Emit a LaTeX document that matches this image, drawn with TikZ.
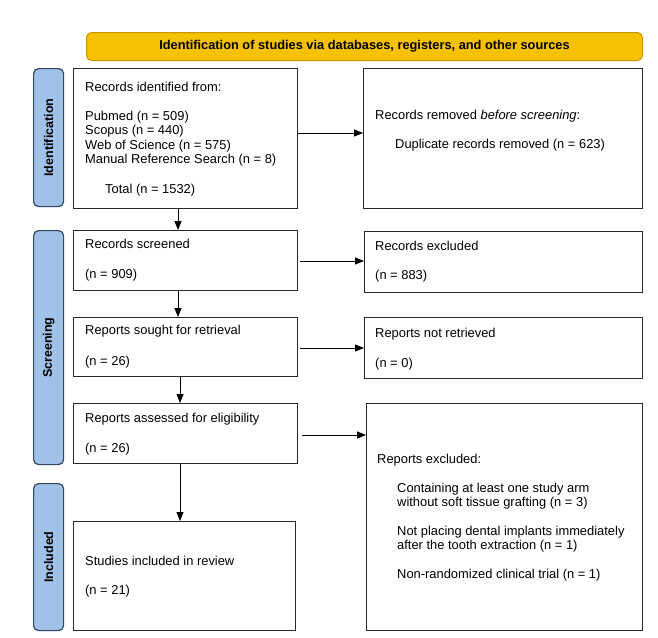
\documentclass[tikz,border=0pt]{standalone}
\usepackage{fontspec}
\setmainfont{Liberation Sans}
\usetikzlibrary{arrows.meta}
\definecolor{hdrfill}{RGB}{245,193,0}
\definecolor{hdrline}{RGB}{200,150,0}
\definecolor{barfill}{RGB}{160,194,232}
\definecolor{barline}{RGB}{50,70,100}
\definecolor{boxline}{RGB}{40,40,40}
\tikzset{
  box/.style={draw=boxline, line width=1.2pt, fill=white, anchor=north west, inner sep=0pt},
  bar/.style={draw=barline, line width=1.2pt, fill=barfill, rounded corners=5pt, anchor=north west, inner sep=0pt},
  hdr/.style={draw=hdrline, line width=1pt, fill=hdrfill, rounded corners=5pt, anchor=north west, inner sep=0pt},
  txt/.style={anchor=west, inner sep=0pt, font=\fontsize{12.9}{15}\selectfont},
  side/.style={rotate=90, font=\fontsize{12.5}{14}\selectfont\bfseries, inner sep=0pt},
  arr/.style={-{Triangle[length=9pt,width=7pt]}, line width=0.8pt, draw=black}
}
\begin{document}
\begin{tikzpicture}[x=1pt,y=-1pt]
\useasboundingbox (0,0) rectangle (658,637);
% header
\node[hdr, minimum width=556pt, minimum height=28pt] (hdr) at (86,32) {};
\node[inner sep=0pt, font=\fontsize{12.8}{14}\selectfont\bfseries] (hdrt) at (hdr.center) {Identification of studies via databases, registers, and other sources};
% side bars
\node[bar, minimum width=30pt, minimum height=138pt] (b1) at (33,68) {};
\node[side] (b1t) at (b1.center) {Identification};
\node[bar, minimum width=30pt, minimum height=234pt] (b2) at (33,230) {};
\node[side] (b2t) at (b2.center) {Screening};
\node[bar, minimum width=30pt, minimum height=147pt] (b3) at (33,483) {};
\node[side] (b3t) at (b3.center) {Included};
% boxes
\node[box, minimum width=224pt, minimum height=140pt] (ident) at (73,68) {};
\node[box, minimum width=279pt, minimum height=140pt] (removed) at (363,68) {};
\node[box, minimum width=224pt, minimum height=60pt] (screened) at (73,230) {};
\node[box, minimum width=278pt, minimum height=61pt] (excl) at (364,231) {};
\node[box, minimum width=224pt, minimum height=59pt] (sought) at (73,317) {};
\node[box, minimum width=278pt, minimum height=61pt] (notret) at (364,317) {};
\node[box, minimum width=224pt, minimum height=60pt] (assessed) at (73,403) {};
\node[box, minimum width=276pt, minimum height=227pt] (repexcl) at (366,403) {};
\node[box, minimum width=222pt, minimum height=109pt] (incl) at (73,521) {};
% texts
\node[txt] (t1) at (85,87) {Records identified from:};
\node[txt] (t2) at (85,117) {Pubmed (n = 509)};
\node[txt] (t3) at (85,131) {Scopus (n = 440)};
\node[txt] (t4) at (85,146) {Web of Science (n = 575)};
\node[txt] (t5) at (85,160) {Manual Reference Search (n = 8)};
\node[txt] (t6) at (105,190) {Total (n = 1532)};
\node[txt] (t7) at (375,116) {Records removed \textit{before screening}:};
\node[txt] (t8) at (395,145) {Duplicate records removed (n = 623)};
\node[txt] (t9) at (85,244) {Records screened};
\node[txt] (t10) at (85,275) {(n = 909)};
\node[txt] (t11) at (375,246) {Records excluded};
\node[txt] (t12) at (375,276) {(n = 883)};
\node[txt] (t13) at (85,331) {Reports sought for retrieval};
\node[txt] (t14) at (85,362) {(n = 26)};
\node[txt] (t15) at (375,334) {Reports not retrieved};
\node[txt] (t16) at (375,364) {(n = 0)};
\node[txt] (t17) at (85,419) {Reports assessed for eligibility};
\node[txt] (t18) at (85,449) {(n = 26)};
\node[txt] (t19) at (377,460) {Reports excluded:};
\node[txt] (t20) at (397,489) {Containing at least one study arm};
\node[txt] (t21) at (397,503) {without soft tissue grafting (n = 3)};
\node[txt] (t22) at (397,532) {Not placing dental implants immediately};
\node[txt] (t23) at (397,546) {after the tooth extraction (n = 1)};
\node[txt] (t24) at (397,575) {Non-randomized clinical trial (n = 1)};
\node[txt] (t25) at (85,561) {Studies included in review};
\node[txt] (t26) at (85,591) {(n = 21)};
% arrows
\draw[arr] (ident.east |- 0,133) -- (removed.west |- 0,133);
\draw[arr] (ident.south -| 178,0) -- (screened.north -| 178,0);
\draw[arr] (screened.east |- 0,261) ++(2,0) -- (excl.west |- 0,261);
\draw[arr] (screened.south -| 178,0) -- (sought.north -| 178,0);
\draw[arr] (sought.east |- 0,348) ++(2,0) -- (notret.west |- 0,348);
\draw[arr] (sought.south -| 180,0) -- (assessed.north -| 180,0);
\draw[arr] (assessed.east |- 0,435) ++(4,0) -- (repexcl.west |- 0,435);
\draw[arr] (assessed.south -| 180,0) -- (incl.north -| 180,0);
\end{tikzpicture}
\end{document}
